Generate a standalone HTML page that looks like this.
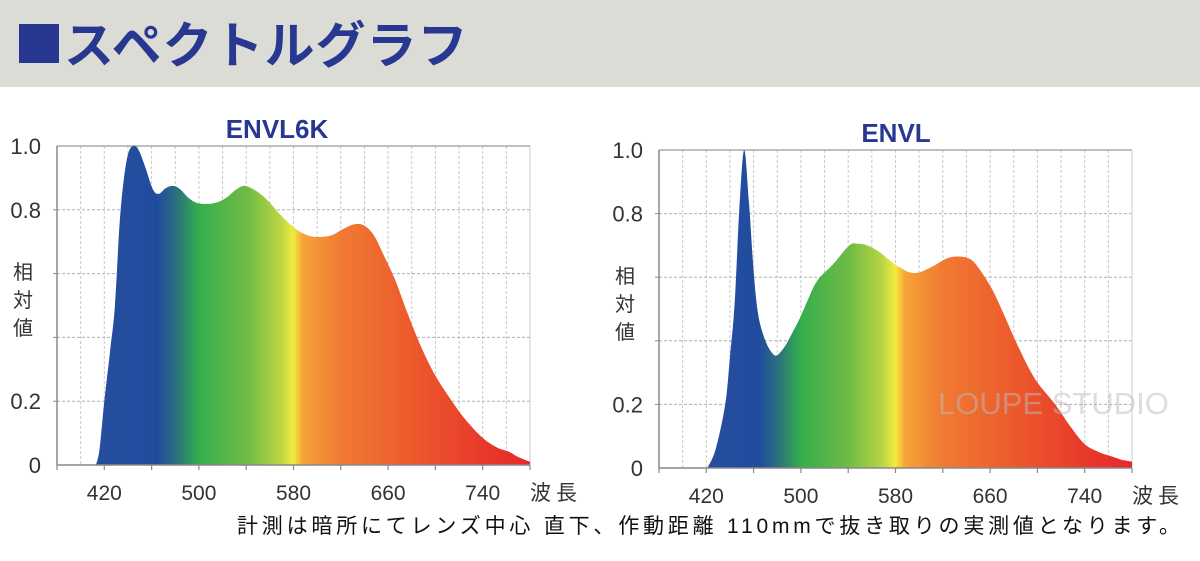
<!DOCTYPE html>
<html><head><meta charset="utf-8"><style>
body{margin:0;width:1200px;height:561px;overflow:hidden;background:#fff;font-family:"Liberation Sans","Noto Sans CJK JP",sans-serif;}
#hdr{position:absolute;left:0;top:0;width:1200px;height:87px;background:#dcdcd7;}
#sq{position:absolute;left:19px;top:24px;width:40px;height:39px;background:#283891;}
#tt{position:absolute;left:64px;top:10px;font-size:50px;font-weight:bold;color:#283891;letter-spacing:1px;line-height:64px;white-space:nowrap;font-family:"Noto Sans CJK JP",sans-serif;}
svg{position:absolute;left:0;top:0;}
</style></head><body>
<div id="hdr"></div><div id="sq"></div><div id="tt">スペクトルグラフ</div>
<svg id="s" width="1200" height="561" xmlns="http://www.w3.org/2000/svg"></svg>
<script>
const NS="http://www.w3.org/2000/svg";const s=document.getElementById('s');
function el(t,a,txt){const e=document.createElementNS(NS,t);for(const k in a)e.setAttribute(k,a[k]);if(txt!=null)e.textContent=txt;s.appendChild(e);return e;}
const defs=el('defs',{});
const stops=[[380,'#2a4f9f'],[465,'#214c9e'],[480,'#2a6e80'],[500,'#34ae4c'],[540,'#6fbb45'],[568,'#b6d443'],[580,'#f2ea3e'],[588,'#f5a338'],[620,'#f07a32'],[680,'#ec5a2c'],[740,'#e83a2a'],[780,'#e8282a']];
function grad(id,x0){const g=document.createElementNS(NS,'linearGradient');g.setAttribute('id',id);g.setAttribute('gradientUnits','userSpaceOnUse');g.setAttribute('x1',x0);g.setAttribute('x2',x0+473);g.setAttribute('y1',0);g.setAttribute('y2',0);
stops.forEach(([n,c])=>{const st=document.createElementNS(NS,'stop');st.setAttribute('offset',(n-380)/400);st.setAttribute('stop-color',c);g.appendChild(st);});defs.appendChild(g);}
function chart(x0,yT,yB,title,tx,pts,gid){
 grad(gid,x0);const k=473/400,h=yB-yT;
 const X=n=>x0+(n-380)*k,Y=v=>yB-v*h;
 for(let n=400;n<780;n+=20)el('line',{x1:X(n),x2:X(n),y1:yT,y2:yB,stroke:'#c8c8c8','stroke-width':1,'stroke-dasharray':'3,2'});
 for(let v=0.2;v<0.99;v+=0.2)el('line',{x1:x0,x2:x0+473,y1:Y(v),y2:Y(v),stroke:'#b0b0b0','stroke-width':1,'stroke-dasharray':'3,2'});
 el('line',{x1:x0,x2:x0+473,y1:yT,y2:yT,stroke:'#999','stroke-width':1.2});
 el('line',{x1:x0+473,x2:x0+473,y1:yT,y2:yB,stroke:'#ccc','stroke-width':1});
 const P=pts.map(([n,v])=>[X(n),Y(v)]);let d=`M${P[0][0]},${P[0][1]}`;
 for(let i=0;i<P.length-1;i++){const p0=P[Math.max(0,i-1)],p1=P[i],p2=P[i+1],p3=P[Math.min(P.length-1,i+2)];
  d+=` C${p1[0]+(p2[0]-p0[0])/6},${p1[1]+(p2[1]-p0[1])/6} ${p2[0]-(p3[0]-p1[0])/6},${p2[1]-(p3[1]-p1[1])/6} ${p2[0]},${p2[1]}`;}
 d+=`L${X(780)},${yB}L${P[0][0]},${yB}Z`;
 el('path',{d:d,fill:`url(#${gid})`});
 el('line',{x1:x0,x2:x0,y1:yT,y2:yB,stroke:'#888','stroke-width':1.5});
 el('line',{x1:x0,x2:x0+473,y1:yB,y2:yB,stroke:'#888','stroke-width':1.5});
 for(let n=380;n<=780;n+=40)el('line',{x1:X(n),x2:X(n),y1:yB,y2:yB+5,stroke:'#888','stroke-width':1.2});
 for(let v=0.2;v<0.99;v+=0.2)el('line',{x1:x0-4,x2:x0,y1:Y(v),y2:Y(v),stroke:'#888','stroke-width':1});
 [[1,'1.0'],[0.8,'0.8'],[0.2,'0.2'],[0,'0']].forEach(([v,t])=>el('text',{x:x0-16,y:Y(v)+8,'text-anchor':'end','font-size':22,fill:'#333'},t));
 ['相','対','値'].forEach((c,i)=>el('text',{x:x0-44,y:yT+133+i*28,'font-size':20,fill:'#333','font-family':'Noto Sans CJK JP,sans-serif'},c));
 [420,500,580,660,740].forEach(n=>el('text',{x:X(n),y:yB+35,'text-anchor':'middle','font-size':21,fill:'#333'},n));
 el('text',{x:x0+473,y:yB+35,'font-size':21,fill:'#333','font-family':'Noto Sans CJK JP,sans-serif','letter-spacing':'5'},'波長');
 el('text',{x:tx,y:yT-8,'text-anchor':'middle','font-size':26,'font-weight':'bold',fill:'#283891'},title);
}
chart(57,146,465,'ENVL6K',277,[[413,0],[416,0.05],[420,0.2],[425,0.36],[429,0.5],[433,0.76],[437,0.91],[441,0.985],[446,1.0],[450,0.98],[455,0.93],[461,0.865],[466,0.85],[472,0.868],[478,0.875],[484,0.865],[492,0.835],[500,0.82],[512,0.82],[522,0.835],[532,0.865],[539,0.875],[548,0.86],[558,0.83],[570,0.78],[582,0.74],[592,0.72],[600,0.715],[612,0.72],[622,0.74],[632,0.755],[640,0.75],[648,0.72],[656,0.66],[666,0.58],[676,0.48],[688,0.37],[700,0.28],[714,0.2],[726,0.14],[740,0.085],[752,0.055],[762,0.042],[770,0.025],[780,0.01]],'g1');
chart(659,150,468,'ENVL',896,[[421,0],[428,0.06],[436,0.2],[440,0.35],[444,0.52],[448,0.82],[452,1.0],[456,0.84],[460,0.62],[464,0.48],[470,0.4],[476,0.36],[480,0.355],[486,0.38],[492,0.42],[499,0.47],[506,0.53],[514,0.59],[527,0.64],[541,0.70],[548,0.705],[556,0.70],[566,0.68],[576,0.65],[584,0.63],[592,0.615],[600,0.615],[612,0.635],[624,0.66],[634,0.665],[644,0.655],[652,0.62],[662,0.56],[672,0.48],[684,0.38],[698,0.28],[715,0.2],[728,0.13],[740,0.075],[752,0.05],[764,0.035],[772,0.025],[780,0.02]],'g2');
el('text',{x:938,y:414,'font-size':31,fill:'#bbbbbb','fill-opacity':0.5,'letter-spacing':'0'},'LOUPE STUDIO');
el('text',{x:237,y:533,'font-size':21,fill:'#111','font-family':'Liberation Sans,Noto Sans CJK JP,sans-serif',textLength:943},'計測は暗所にてレンズ中心 直下、作動距離 110mmで抜き取りの実測値となります。');
</script>
</body></html>
